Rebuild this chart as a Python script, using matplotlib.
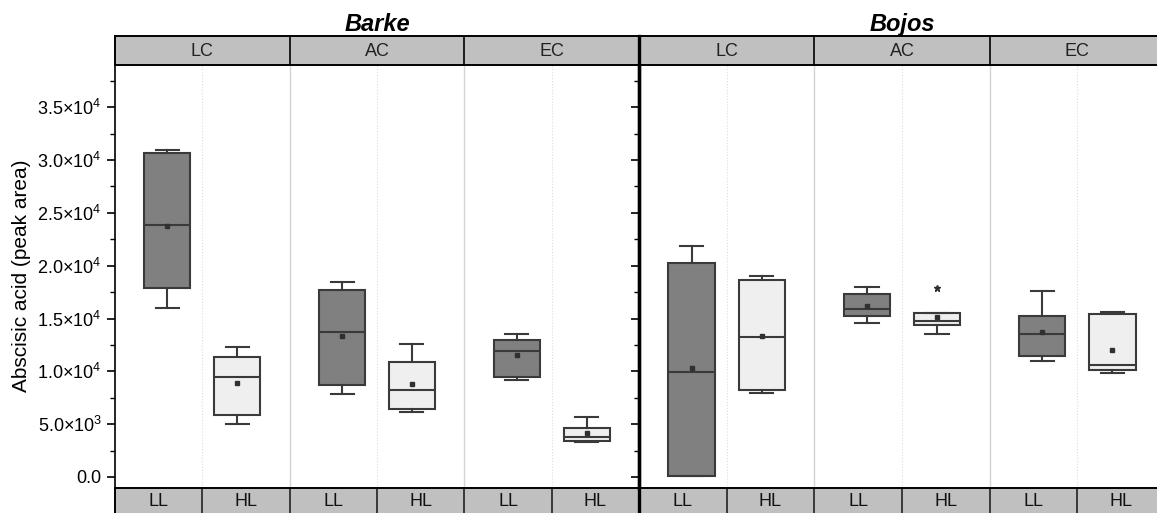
import matplotlib
matplotlib.use("Agg")
import matplotlib.pyplot as plt
from matplotlib.ticker import MultipleLocator, FixedLocator

plt.rcParams['font.family'] = ['Liberation Sans', 'DejaVu Sans']
plt.rcParams['mathtext.default'] = 'regular'

# ---- data ----
genotypes = ["Barke", "Bojos"]
co2_levels = ["LC", "AC", "EC"]
light_levels = ["LL", "HL"]

# order: LC-LL, LC-HL, AC-LL, AC-HL, EC-LL, EC-HL
barke_whislo = [15960, 5040, 7880, 6180, 9180, 3280]
barke_q1 = [17880, 5890, 8670, 6460, 9490, 3380]
barke_med = [23870, 9460, 13690, 8260, 11950, 3810]
barke_q3 = [30650, 11380, 17660, 10910, 12960, 4640]
barke_whishi = [30960, 12270, 18480, 12610, 13530, 5680]
barke_mean = [23800, 8890, 13310, 8770, 11510, 4130]
barke_fliers = [[], [], [], [], [], []]

bojos_whislo = [100, 7920, 14540, 13530, 10970, 9870]
bojos_q1 = [100, 8200, 15260, 14350, 11480, 10150]
bojos_med = [9900, 13210, 15890, 14760, 13500, 10620]
bojos_q3 = [20250, 18670, 17280, 15520, 15260, 15420]
bojos_whishi = [21850, 19050, 17950, 15520, 17570, 15640]
bojos_mean = [10340, 13370, 16150, 15110, 13750, 12040]
bojos_fliers = [[], [], [], [17880], [], []]

ytick_values = [0, 5000, 10000, 15000, 20000, 25000, 30000, 35000]
ytick_labels = ["0.0", "5.0×10$^{3}$", "1.0×10$^{4}$", "1.5×10$^{4}$",
                "2.0×10$^{4}$", "2.5×10$^{4}$", "3.0×10$^{4}$", "3.5×10$^{4}$"]

panel_data = {
    "Barke": (barke_whislo, barke_q1, barke_med, barke_q3, barke_whishi,
              barke_mean, barke_fliers),
    "Bojos": (bojos_whislo, bojos_q1, bojos_med, bojos_q3, bojos_whishi,
              bojos_mean, bojos_fliers),
}

DARK = '#808080'
LIGHT = '#efefef'
EDGE = '#3a3a3a'
STRIP = '#c0c0c0'

W, H = 1157, 513
fig = plt.figure(figsize=(W / 100, H / 100), dpi=100)


def fx(px):
    return px / W


def fy(py):
    return 1 - py / H


plot_top, plot_bot = 65, 487.5
panels_px = [(115, 639), (639, 1165)]

for i, (name, (x0, x1)) in enumerate(zip(genotypes, panels_px)):
    whislo, q1, med, q3, whishi, mean, fliers = panel_data[name]

    ax = fig.add_axes([fx(x0), fy(plot_bot), fx(x1 - x0), fy(plot_top) - fy(plot_bot)])
    stats = []
    positions = []
    for k in range(6):
        stats.append(dict(whislo=whislo[k], q1=q1[k], med=med[k], q3=q3[k],
                          whishi=whishi[k], mean=mean[k], fliers=fliers[k]))
        positions.append(k // 2 + (0.3 if k % 2 == 0 else 0.7))

    bp = ax.bxp(stats, positions=positions, widths=0.264, capwidths=0.132,
                patch_artist=True, showmeans=True, showfliers=True,
                boxprops=dict(edgecolor=EDGE, linewidth=1.5),
                whiskerprops=dict(color=EDGE, linewidth=1.5),
                capprops=dict(color=EDGE, linewidth=1.5),
                medianprops=dict(color=EDGE, linewidth=1.5),
                meanprops=dict(marker='s', markerfacecolor='#303030',
                               markeredgecolor='#303030', markersize=3.5),
                flierprops=dict(marker='*', markerfacecolor='#303030',
                                markeredgecolor='#303030', markersize=4.5))
    for k, patch in enumerate(bp['boxes']):
        patch.set_facecolor(DARK if k % 2 == 0 else LIGHT)

    # separators
    for g in (1, 2):
        ax.axvline(g, color='#d4d4d4', lw=1.0, zorder=0)
    for g in (0.5, 1.5, 2.5):
        ax.axvline(g, color='#dcdcdc', lw=0.8, ls=':', zorder=0)

    ax.set_xlim(0, 3)
    ax.set_ylim(-1000, 39000)
    ax.set_xticks([])
    ax.yaxis.set_major_locator(FixedLocator(ytick_values))
    ax.yaxis.set_minor_locator(MultipleLocator(2500))
    ax.tick_params(axis='y', which='major', direction='out', length=6, width=1.2)
    ax.tick_params(axis='y', which='minor', direction='out', length=3.5, width=1.0)
    for s in ('top', 'bottom', 'right'):
        ax.spines[s].set_visible(False)
    if i == 0:
        ax.spines['left'].set_linewidth(1.2)
        ax.set_yticklabels(ytick_labels, fontsize=13)
        ax.set_ylabel("Abscisic acid (peak area)", fontsize=15, labelpad=5)
    else:
        ax.spines['left'].set_linewidth(2.4)
        ax.set_yticklabels([])

    # top strip
    st = fig.add_axes([fx(x0), fy(plot_top), fx(x1 - x0), fy(36) - fy(plot_top)])
    st.set_facecolor(STRIP)
    st.set_xlim(0, 3)
    st.set_ylim(0, 1)
    st.set_xticks([])
    st.set_yticks([])
    for s in st.spines.values():
        s.set_linewidth(1.4)
    for g in (1, 2):
        st.axvline(g, color='black', lw=1.2)
    for g, lab in enumerate(co2_levels):
        st.text(g + 0.5, 0.45, lab, ha='center', va='center', fontsize=13,
                color='#222222')
    st.set_title(name, fontsize=17, fontweight='bold', fontstyle='italic',
                 pad=2)

    # bottom strip
    sb = fig.add_axes([fx(x0), fy(516.5), fx(x1 - x0), fy(plot_bot) - fy(516.5)])
    sb.set_facecolor(STRIP)
    sb.set_xlim(0, 3)
    sb.set_ylim(0, 1)
    sb.set_xticks([])
    sb.set_yticks([])
    for s in sb.spines.values():
        s.set_linewidth(1.4)
    for g in (0.5, 1, 1.5, 2, 2.5):
        sb.axvline(g, color='#222222', lw=1.2)
    for k in range(6):
        sb.text(k * 0.5 + 0.25, 0.5, light_levels[k % 2], ha='center',
                va='center', fontsize=13, color='#111111')

# thick divider between panels
fig.add_artist(plt.Line2D([fx(639), fx(639)], [fy(516), fy(36)], color='black',
                          lw=2.4, transform=fig.transFigure))

fig.savefig("out.png", dpi=100)
